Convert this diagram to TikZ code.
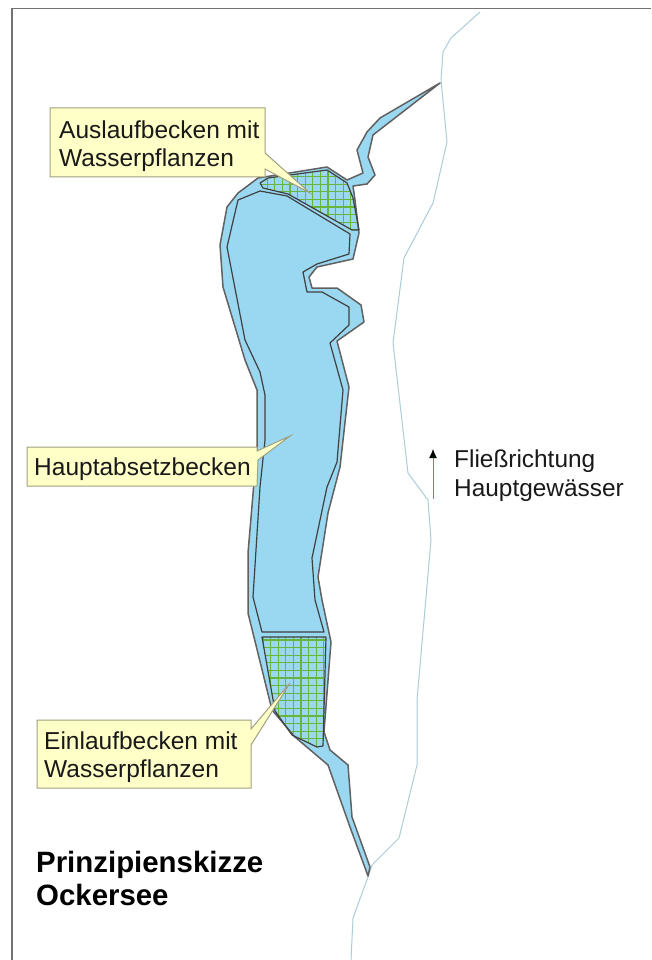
\documentclass[tikz,border=0pt]{standalone}
\usepackage{fontspec}
\setmainfont{Liberation Sans}
\usetikzlibrary{arrows.meta}
\definecolor{lake}{RGB}{154,216,241}
\definecolor{callfill}{RGB}{255,255,200}
\definecolor{callline}{RGB}{160,160,128}
\definecolor{river}{RGB}{170,205,215}
\definecolor{hatchc}{RGB}{105,180,60}
\definecolor{flow}{RGB}{195,95,110}
\tikzset{
  x=1pt,y=-1pt,
  outline/.style={draw=black!75,line width=1.2pt,line join=round},
  water/.style={draw=black!62,line width=1.5pt,line join=round,fill=lake},
  callout/.style={draw=callline,fill=callfill,line width=1pt,line join=miter},
  calltext/.style={anchor=north west,inner sep=0pt,align=left,font=\fontsize{24.5}{27.6}\selectfont,text=black!90},
  flowtext/.style={anchor=north west,inner sep=0pt,align=left,font=\fontsize{24.4}{28.7}\selectfont,text=black!90},
  titletext/.style={anchor=north west,inner sep=0pt,align=left,font=\fontsize{29.4}{33.2}\selectfont\bfseries,text=black},
  hatchline/.style={hatchc,line width=1.2pt},
}
\begin{document}
\begin{tikzpicture}
\useasboundingbox (0,0) rectangle (651,960);
\fill[white] (0,0) rectangle (651,960);
% frame
\draw[black!55,line width=1.3pt] (12,960) -- (12,8.5) -- (651,8.5);
% river
\draw[river,line width=1pt,line join=round]
 (480,12) -- (451,38) -- (443,52) -- (441,80) -- (447,142) -- (433,203) -- (404,258)
 -- (393,343) -- (408,473) -- (428,500) -- (431,540) -- (424,620) -- (417,700) -- (417,765)
 -- (399,838) -- (372,865) -- (368,877) -- (353,918) -- (351,960);
% lake outer
\draw[water]
 (440,83) -- (373,135) -- (368,157) -- (375,175) -- (367,184) -- (353,186) -- (355,200)
 -- (359,233) -- (353,259) -- (317,267) -- (309,277) -- (312,288) -- (337,288) -- (361,305)
 -- (364,322) -- (337,341) -- (349,387) -- (340,467) -- (328,513) -- (318,577) -- (322,600)
 -- (331,642) -- (324,732) -- (330,750) -- (348,765) -- (352,817) -- (370,867) -- (368,876)
 -- (350,827) -- (328,765) -- (295,737) -- (272,710) -- (248,613) -- (248,553) -- (257,447)
 -- (257,390) -- (245,360) -- (223,287) -- (220,245) -- (227,207) -- (238,193) -- (258,178)
 -- (327,167) -- (347,180) -- (363,173) -- (357,150) -- (367,132) -- (380,118) -- cycle;
% main basin
\draw[outline]
 (238,200) -- (260,191) -- (287,196) -- (350,234) -- (349,254) -- (317,264) -- (303,272)
 -- (307,292) -- (322,292) -- (349,307) -- (349,325) -- (330,343) -- (343,390) -- (337,462)
 -- (327,487) -- (312,558) -- (315,600) -- (324,632) -- (262,632) -- (253,597) -- (260,487)
 -- (265,440) -- (265,395) -- (260,372) -- (245,340) -- (227,247) -- cycle;
% upper reed basin
\begin{scope}
\clip (260,183) -- (268,178) -- (327,170) -- (347,183) -- (353,198) -- (359,230) -- (352,230)
 -- (288,194) -- (263,188) -- cycle;
\foreach \gx in {252,259.6,...,365} \draw[hatchline] (\gx,165) -- (\gx,240);
\foreach \gy in {169,176.6,...,240} \draw[hatchline] (255,\gy) -- (365,\gy);
\end{scope}
\draw[outline] (260,183) -- (268,178) -- (327,170) -- (347,183) -- (353,198) -- (359,230) -- (352,230)
 -- (288,194) -- (263,188) -- cycle;
% lower reed basin
\begin{scope}
\clip (262,637) -- (326,637) -- (323,746) -- (317,747) -- (292,735) -- (275,711) -- cycle;
\foreach \gx in {263,270.6,...,335} \draw[hatchline] (\gx,630) -- (\gx,755);
\foreach \gy in {640,647.6,...,755} \draw[hatchline] (255,\gy) -- (335,\gy);
\end{scope}
\draw[outline] (262,637) -- (326,637) -- (323,746) -- (317,747) -- (292,735) -- (275,711) -- cycle;
% callouts
\draw[callout] (50,108) -- (265,108) -- (265,153) -- (310,193) -- (265,169) -- (265,177) -- (50,177) -- cycle;
\draw[callout] (27,447) -- (257,447) -- (257,451) -- (290,436) -- (258,460) -- (257,486) -- (27,486) -- cycle;
\draw[callout] (37,720) -- (251,720) -- (251,729) -- (290,683) -- (251,745) -- (251,788) -- (37,788) -- cycle;
\node[calltext] (auslauf) at (59,121) {Auslaufbecken mit\\Wasserpflanzen};
\node[calltext] (haupt) at (34,458) {Hauptabsetzbecken};
\node[calltext] (einlauf) at (44,732) {Einlaufbecken mit\\Wasserpflanzen};
\node[flowtext] (fliess) at (454,450) {Fließrichtung\\Hauptgewässer};
\node[titletext] (titel) at (36,851) {Prinzipienskizze\\Ockersee};
% flow arrow
\coordinate (flowstart) at (433,499);
\coordinate (flowend) at (433,449);
\draw[flow,line width=1pt,-{Latex[black,length=9pt,width=8pt]}] (flowstart) -- (flowend);
\end{tikzpicture}
\end{document}
